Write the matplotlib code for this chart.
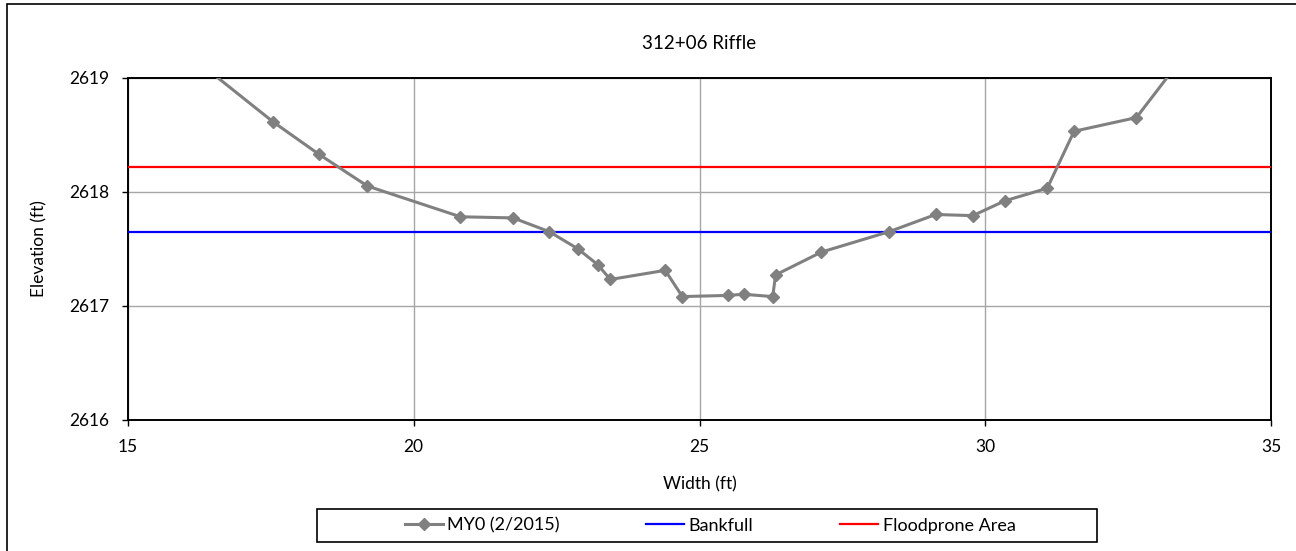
import matplotlib
matplotlib.use("Agg")
import matplotlib.pyplot as plt
from matplotlib.lines import Line2D
from matplotlib.patches import Rectangle

plt.rcParams["font.family"] = ["Lato", "DejaVu Sans"]

# Cross-section survey MY0 (2/2015)
width_ft = [16.0, 17.55, 18.34, 19.19, 20.82, 21.74, 22.37, 22.87, 23.22, 23.44,
            24.40, 24.70, 25.49, 25.77, 26.28, 26.33, 27.13, 28.32, 29.13, 29.78,
            30.34, 31.08, 31.55, 32.64, 34.0]
elev_ft = [2619.23, 2618.61, 2618.33, 2618.05, 2617.78, 2617.77, 2617.65, 2617.50,
           2617.36, 2617.23, 2617.31, 2617.08, 2617.09, 2617.10, 2617.08, 2617.27,
           2617.47, 2617.65, 2617.80, 2617.79, 2617.92, 2618.03, 2618.53, 2618.65,
           2619.54]
bankfull = 2617.646
floodprone = 2618.217

GRAY = "#808080"
GRID = "#a6a6a6"

fig = plt.figure(figsize=(12.96, 5.51), dpi=100, facecolor="white")
ax = fig.add_axes([0.0985, 0.2383, 0.8825, 0.6207])

ax.axhline(bankfull, color="#0000ff", linewidth=1.6, zorder=3)
ax.axhline(floodprone, color="#ff0000", linewidth=1.6, zorder=3)
ax.plot(width_ft, elev_ft, color=GRAY, linewidth=2.2, marker="D", markersize=6,
        markerfacecolor=GRAY, markeredgecolor=GRAY, zorder=4)

ax.set_xlim(15, 35)
ax.set_ylim(2616, 2619)
ax.set_xticks([15, 20, 25, 30, 35])
ax.set_yticks([2616, 2617, 2618, 2619])
ax.grid(True, color=GRID, linewidth=1.0, zorder=0)
ax.set_axisbelow(True)
for spine in ax.spines.values():
    spine.set_color("black")
    spine.set_linewidth(1.4)
ax.tick_params(direction="out", length=4, width=1, labelsize=12.5, colors="black")
ax.tick_params(axis="x", pad=10)
ax.tick_params(axis="y", pad=9)

ax.set_title("312+06 Riffle", fontsize=13.5, pad=21)
ax.set_xlabel("Width (ft)", fontsize=12.5, labelpad=15)
ax.set_ylabel("Elevation (ft)", fontsize=12.5, labelpad=16)

handles = [
    Line2D([], [], color=GRAY, linewidth=2.2, marker="D", markersize=6),
    Line2D([], [], color="#0000ff", linewidth=1.6),
    Line2D([], [], color="#ff0000", linewidth=1.6),
]
fig.legend(handles, ["MY0 (2/2015)", "Bankfull", "Floodprone Area"],
           loc="center", bbox_to_anchor=(0.548, 0.0463), ncol=3, fontsize=13,
           frameon=False, handlelength=2.1, columnspacing=4.8, handletextpad=0.25)
# legend box is wider than its entries
fig.patches.append(Rectangle((0.2446, 0.0163), 0.6019, 0.060, transform=fig.transFigure,
                             fill=False, edgecolor="black", linewidth=1.2))

# outer chart border
fig.patches.append(Rectangle((0.0055, -0.01), 1.0, 1.0027, transform=fig.transFigure,
                             fill=False, edgecolor="black", linewidth=1.2))

fig.savefig("out.png", dpi=100, facecolor="white")
